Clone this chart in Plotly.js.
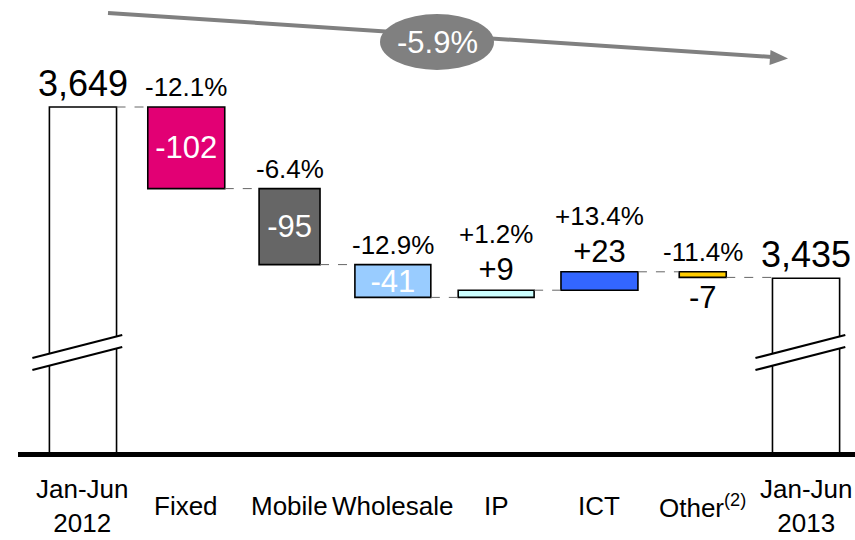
<!DOCTYPE html>
<html><head><meta charset="utf-8">
<script src="https://cdn.plot.ly/plotly-3.0.1.min.js"></script>
<style>html,body{margin:0;padding:0;background:#fff}#chart{width:855px;height:540px}</style>
</head><body><div id="chart"></div>
<script>
// ---- data ----
const categories = ['Jan-Jun<br>2012', 'Fixed', 'Mobile', 'Wholesale', 'IP', 'ICT', 'Other<sup>(2)</sup>', 'Jan-Jun<br>2013'];
const startValue = 3649;
const endValue = 3435;
const deltaValues = [-102, -95, -41, 9, 23, -7];
const deltaPct = ['-12.1%', '-6.4%', '-12.9%', '+1.2%', '+13.4%', '-11.4%'];
const totalChangePct = '-5.9%';
const barColors = ['#FFFFFF', '#E20074', '#666666', '#99CCFF', '#CCFFFF', '#3366FF', '#FFCC00', '#FFFFFF'];

// ---- styles ----
const FONT = 'Liberation Sans, Arial, sans-serif';
const widths = [0.65, 0.745, 0.59, 0.735, 0.735, 0.745, 0.455, 0.65];
const textPos = ['outside', 'inside', 'inside', 'inside', 'outside', 'outside', 'outside', 'outside'];
const insideColors = ['#000', '#fff', '#fff', '#fff', '#000', '#fff', '#000', '#000'];
const textSizes = [36, 31, 31, 31, 31, 31, 31, 36];
const PLOT_L = 18, PLOT_H = 452, PLOT_W = 837;
const px = x => (x - PLOT_L) / PLOT_W;     // pixel -> paper x
const py = y => 1 - y / PLOT_H;            // pixel -> paper y

// ---- derived waterfall geometry ----
const xs = categories.map((_, i) => i);
const bases = [0], ys = [startValue], levels = [startValue];
let level = startValue;
deltaValues.forEach(d => { bases.push(level); ys.push(d); level += d; levels.push(level); });
bases.push(0); ys.push(endValue);
const fmt = v => v.toLocaleString('en-US');
const signed = v => (v > 0 ? '+' : '') + v;
const texts = [fmt(startValue), ...deltaValues.map(signed), fmt(endValue)];

const trace = {
  type: 'bar', x: xs, y: ys, base: bases, width: widths,
  marker: { color: barColors, line: { color: '#000', width: 1.6 } },
  text: texts, textposition: textPos, textangle: 0, constraintext: 'none',
  insidetextanchor: 'middle',
  textfont: { family: FONT, size: textSizes, color: insideColors },
  outsidetextfont: { family: FONT, size: textSizes, color: '#000' },
  hoverinfo: 'none', showlegend: false
};

const shapes = [];
// connectors
for (let i = 0; i < categories.length - 1; i++) {
  shapes.push({ type: 'line', xref: 'x', yref: 'y',
    x0: i + widths[i] / 2, x1: i + 1 - widths[i + 1] / 2, y0: levels[i] !== undefined ? levels[i] : endValue, y1: levels[i] !== undefined ? levels[i] : endValue,
    line: { color: '#666', width: 1, dash: 'dash' } });
}
// axis breaks on total bars
[0, categories.length - 1].forEach(i => {
  const xl = i - 0.49, xr = i + 0.38;
  const yu0 = py(358), yu1 = py(335), yl0 = py(370), yl1 = py(347);
  shapes.push({ type: 'path', xref: 'x', yref: 'paper', layer: 'above',
    path: `M${xl},${yu0} L${xr},${yu1} L${xr},${yl1} L${xl},${yl0} Z`,
    fillcolor: '#fff', line: { width: 0 } });
  shapes.push({ type: 'line', xref: 'x', yref: 'paper', layer: 'above', x0: xl, x1: xr, y0: yu0, y1: yu1, line: { color: '#000', width: 2.2 } });
  shapes.push({ type: 'line', xref: 'x', yref: 'paper', layer: 'above', x0: xl, x1: xr, y0: yl0, y1: yl1, line: { color: '#000', width: 2.2 } });
});
// trend arrow + ellipse
shapes.push({ type: 'line', xref: 'paper', yref: 'paper', layer: 'above',
  x0: px(108), y0: py(13), x1: px(772), y1: py(57), line: { color: '#808080', width: 4 } });
shapes.push({ type: 'path', xref: 'paper', yref: 'paper', layer: 'above',
  path: `M${px(788)},${py(58.5)} L${px(769.5)},${py(65)} L${px(770.5)},${py(50)} Z`,
  fillcolor: '#808080', line: { width: 0 } });
shapes.push({ type: 'circle', xref: 'paper', yref: 'paper', layer: 'above',
  x0: px(380), x1: px(494), y0: py(70), y1: py(14), fillcolor: '#808080', line: { width: 0 } });

const annotations = [];
deltaValues.forEach((d, k) => {
  const i = k + 1;
  const top = Math.max(bases[i], bases[i] + d);
  const extra = (textPos[i] === 'outside' && d > 0) ? 36 : 0;
  annotations.push({ x: i, y: top, xref: 'x', yref: 'y', yanchor: 'bottom', yshift: 3 + extra,
    text: deltaPct[k], showarrow: false, font: { family: FONT, size: 26, color: '#000' } });
});
categories.forEach((c, i) => {
  annotations.push({ x: i, y: py(506), xref: 'x', yref: 'paper', yanchor: 'middle',
    text: c, showarrow: false, font: { family: FONT, size: 26, color: '#000' } });
});
annotations.push({ x: px(437), y: py(42), xref: 'paper', yref: 'paper', xanchor: 'center', yanchor: 'middle',
  text: totalChangePct, showarrow: false, font: { family: FONT, size: 31, color: '#fff' } });

const layout = {
  width: 855, height: 540,
  margin: { l: PLOT_L, r: 0, t: 0, b: 540 - PLOT_H, pad: 0 },
  paper_bgcolor: '#fff', plot_bgcolor: '#fff',
  xaxis: { range: [-0.629, 7.474], showline: true, linecolor: '#000', linewidth: 5,
    showticklabels: false, ticks: '', showgrid: false, zeroline: false, fixedrange: true },
  yaxis: { range: [3217.75, 3782.75], visible: false, showgrid: false, zeroline: false, fixedrange: true },
  shapes: shapes, annotations: annotations, bargap: 0, showlegend: false
};
Plotly.newPlot('chart', [trace], layout, { displayModeBar: false, staticPlot: true });
</script>
</body></html>
